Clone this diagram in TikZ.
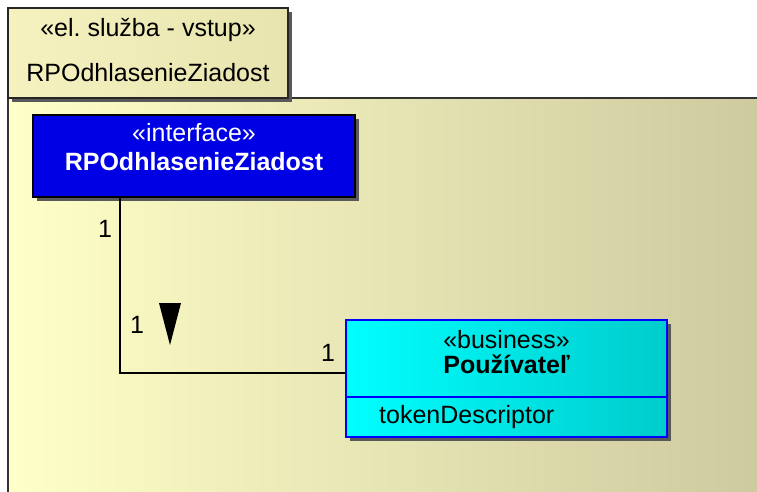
\documentclass[tikz,border=0pt]{standalone}
\usepackage{fontspec}
\setmainfont{Liberation Sans}
\usetikzlibrary{shadows}
\frenchspacing

\definecolor{pkgleft}{RGB}{255,255,200}
\definecolor{pkgright}{RGB}{204,201,158}
\definecolor{tableft}{RGB}{245,242,192}
\definecolor{tabright}{RGB}{232,228,175}
\definecolor{ifaceblue}{RGB}{0,0,228}
\definecolor{userleft}{RGB}{0,255,255}
\definecolor{userright}{RGB}{0,204,204}

\tikzset{
  boxshadow/.style={drop shadow={shadow xshift=4pt, shadow yshift=-4pt, fill=black!65, opacity=1}},
  tabbox/.style={draw=black!85, line width=1.5pt, left color=tableft, right color=tabright,
    minimum width=280pt, minimum height=90pt, inner sep=0pt, boxshadow},
  ifacebox/.style={draw=black, line width=1.5pt, fill=ifaceblue,
    minimum width=322pt, minimum height=82pt, inner sep=0pt, boxshadow},
  userbox/.style={draw=blue, line width=1.5pt, left color=userleft, right color=userright,
    minimum width=321pt, minimum height=117pt, inner sep=0pt, boxshadow},
  txt/.style={inner sep=0pt},
}

\begin{document}
\begin{tikzpicture}[x=1pt, y=-1pt, font=\fontsize{25}{30}\selectfont]
    \useasboundingbox (0,0) rectangle (757,492);

    % package body (runs off the picture)
    \begin{scope}
      \clip (0,0) rectangle (757,492);
      \shade[left color=pkgleft, right color=pkgright] (8,98) rectangle (780,520);
      \draw[line width=2pt, black!80] (780,98) -- (8,98) -- (8,520);
    \end{scope}

    % package tab
    \node[tabbox] (tab) at (148,53) {};
    \node[txt] (tabstereo) at ([yshift=23pt]tab.center) {«el. služba - vstup»};
    \node[txt] (tabname) at ([yshift=-20pt]tab.center) {RPOdhlasenieZiadost};

    % interface
    \node[ifacebox] (iface) at (194,156) {};
    \node[txt, text=white] (ifacestereo) at (194,133) {«interface»};
    \node[txt, text=white, font=\fontsize{25}{30}\selectfont\bfseries] (ifacename) at (194,162) {RPOdhlasenieZiadost};

    % business class
    \node[userbox] (user) at (506.5,378.5) {};
    \draw[blue, line width=1.5pt] (user.west |- 0,397) -- (user.east |- 0,397);
    \node[txt] (userstereo) at (506.5,340) {«business»};
    \node[txt, font=\fontsize{25}{30}\selectfont\bfseries] (username) at (506.5,364) {Používateľ};
    \node[txt, anchor=west] (userattr) at (379,417) {tokenDescriptor};

    % association
    \coordinate (bend) at (120,373);
    \draw[line width=2pt] (iface.south -| bend) -- (bend) -- (bend -| user.west);
    \node[txt] (multa) at (105,229) {1};
    \node[txt] (multb) at (137,325) {1};
    \node[txt] (multc) at (328,353) {1};

    % reading direction
    \fill (159,303) -- (181,303) -- (170,345) -- cycle;
\end{tikzpicture}
\end{document}
